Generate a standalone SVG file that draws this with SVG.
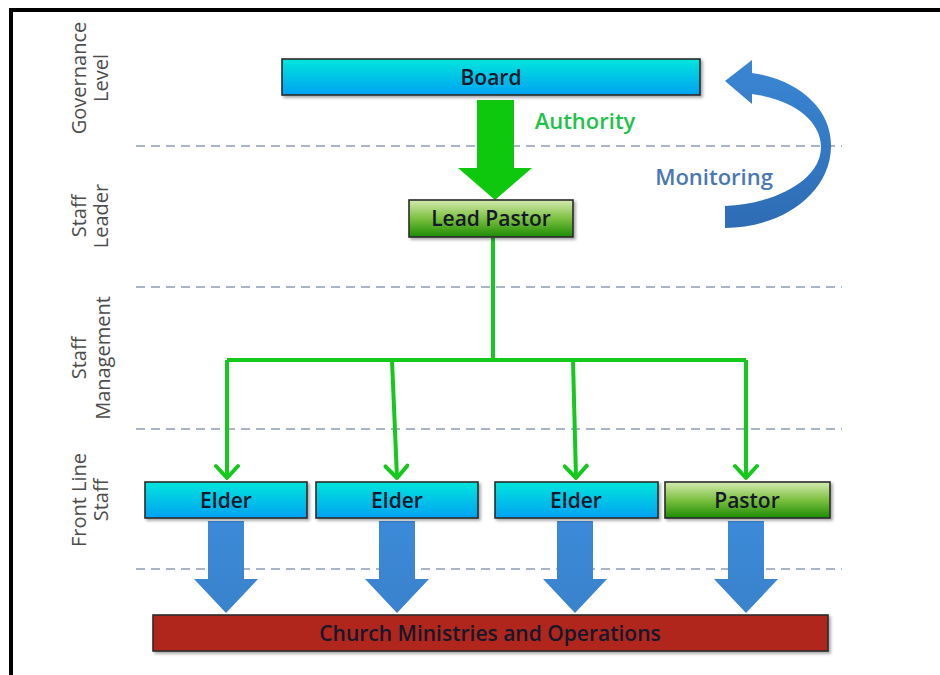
<svg xmlns="http://www.w3.org/2000/svg" width="940" height="675" viewBox="0 0 940 675">
<defs>
<linearGradient id="gBlue" x1="0" y1="0" x2="0" y2="1">
<stop offset="0" stop-color="#00e6dc"/>
<stop offset="1" stop-color="#00a2f2"/>
</linearGradient>
<linearGradient id="gGreen" x1="0" y1="0" x2="0" y2="1">
<stop offset="0" stop-color="#d4eab0"/>
<stop offset="0.5" stop-color="#7cc040"/>
<stop offset="1" stop-color="#1c8c04"/>
</linearGradient>
<linearGradient id="gArrow" x1="0" y1="0" x2="0" y2="1">
<stop offset="0" stop-color="#3c8ad8"/>
<stop offset="1" stop-color="#3a82cc"/>
</linearGradient>
<linearGradient id="gMon" x1="0" y1="0" x2="0" y2="1">
<stop offset="0" stop-color="#3a86d4"/>
<stop offset="1" stop-color="#2e6cb4"/>
</linearGradient>
<filter id="sh" x="-10%" y="-30%" width="120%" height="160%">
<feDropShadow dx="2" dy="2" stdDeviation="1.5" flood-color="#000" flood-opacity="0.35"/>
</filter>
<marker id="vhead" viewBox="0 0 24 26" refX="20" refY="13" markerWidth="24" markerHeight="26" markerUnits="userSpaceOnUse" orient="auto">
<path d="M8,2 L20,13 L8,24" fill="none" stroke="#14c81c" stroke-width="4" stroke-linecap="round" stroke-linejoin="round"/>
</marker>
<g id="blueArrow">
<path d="M-18,0 H18 V58 H32 L0,92 L-32,58 H-18 Z" fill="url(#gArrow)"/>
</g>
</defs>
<style>
.box{stroke:#2a2a2a;stroke-width:1.6;filter:url(#sh)}
.lbl{font-family:"Open Sans","Liberation Sans",sans-serif;font-size:21px;font-weight:600;fill:#14182a;text-anchor:middle;dominant-baseline:central}
.side{font-family:"Liberation Sans Narrow","Open Sans","Liberation Sans",sans-serif;font-size:20px;fill:#4c4c4c;text-anchor:middle}
.dash{stroke:#a9b5c6;stroke-width:2;stroke-dasharray:9 6;fill:none}
.conn{stroke:#14c81c;stroke-width:4;fill:none;stroke-linejoin:round}
.note{font-family:"Open Sans","Liberation Sans",sans-serif;font-size:22px;font-weight:600;text-anchor:middle;dominant-baseline:central}
</style>
<rect width="940" height="675" fill="#fff"/>
<path d="M11,675 V10 H940" fill="none" stroke="#000" stroke-width="4"/>

<g id="levels">
<line class="dash" x1="136" y1="146" x2="842" y2="146"/>
<line class="dash" x1="136" y1="287" x2="842" y2="287"/>
<line class="dash" x1="136" y1="429" x2="842" y2="429"/>
<line class="dash" x1="136" y1="569" x2="842" y2="569"/>
</g>

<g id="side-labels">
<text class="side" transform="translate(86,78) rotate(-90)">Governance</text>
<text class="side" transform="translate(108,78) rotate(-90)">Level</text>
<text class="side" transform="translate(86,216) rotate(-90)">Staff</text>
<text class="side" transform="translate(108,216) rotate(-90)">Leader</text>
<text class="side" transform="translate(86,358) rotate(-90)">Staff</text>
<text class="side" transform="translate(110,358) rotate(-90)">Management</text>
<text class="side" transform="translate(86,500) rotate(-90)">Front Line</text>
<text class="side" transform="translate(108,500) rotate(-90)">Staff</text>
</g>

<g id="connectors">
<path id="authority-arrow" d="M477,100 H514 V168 H532 L495,200 L458,168 H477 Z" fill="#0ec80e"/>
<text class="note" x="585" y="120" fill="#22c24a">Authority</text>
<path id="monitoring-arrow" d="M752,73 C800,80 832,110 831,147 C830,195 780,228 725,228 L725,206 C775,204 821,180 821,147 C821,120 792,99 752,94 L752,104 L725,81 L752,60 Z" fill="url(#gMon)"/>
<text class="note" x="714" y="176" fill="#4a78b4">Monitoring</text>
<path class="conn" d="M493,238 V360"/>
<path class="conn" d="M227,360 H746"/>
<path class="conn" d="M227,360 V478" marker-end="url(#vhead)"/>
<path class="conn" d="M392,360 L397,478" marker-end="url(#vhead)"/>
<path class="conn" d="M573,360 L576,478" marker-end="url(#vhead)"/>
<path class="conn" d="M746,360 V478" marker-end="url(#vhead)"/>
<use href="#blueArrow" x="226" y="521"/>
<use href="#blueArrow" x="397" y="521"/>
<use href="#blueArrow" x="575" y="521"/>
<use href="#blueArrow" x="746" y="521"/>
</g>

<g id="board">
<rect class="box" x="282" y="59" width="418" height="36" fill="url(#gBlue)"/>
<text class="lbl" x="491" y="77">Board</text>
</g>
<g id="lead-pastor">
<rect class="box" x="409" y="200" width="164" height="37" fill="url(#gGreen)"/>
<text class="lbl" x="491" y="218">Lead Pastor</text>
</g>
<g id="elder-1">
<rect class="box" x="145" y="482" width="162" height="36" fill="url(#gBlue)"/>
<text class="lbl" x="226" y="500">Elder</text>
</g>
<g id="elder-2">
<rect class="box" x="316" y="482" width="162" height="36" fill="url(#gBlue)"/>
<text class="lbl" x="397" y="500">Elder</text>
</g>
<g id="elder-3">
<rect class="box" x="495" y="482" width="163" height="36" fill="url(#gBlue)"/>
<text class="lbl" x="576" y="500">Elder</text>
</g>
<g id="pastor">
<rect class="box" x="665" y="482" width="165" height="36" fill="url(#gGreen)"/>
<text class="lbl" x="747" y="500">Pastor</text>
</g>
<g id="church-ministries">
<rect class="box" x="153" y="615" width="675" height="36" fill="#b0281f"/>
<text class="lbl" x="490" y="633" fill="#1a0a0a">Church Ministries and Operations</text>
</g>
</svg>
